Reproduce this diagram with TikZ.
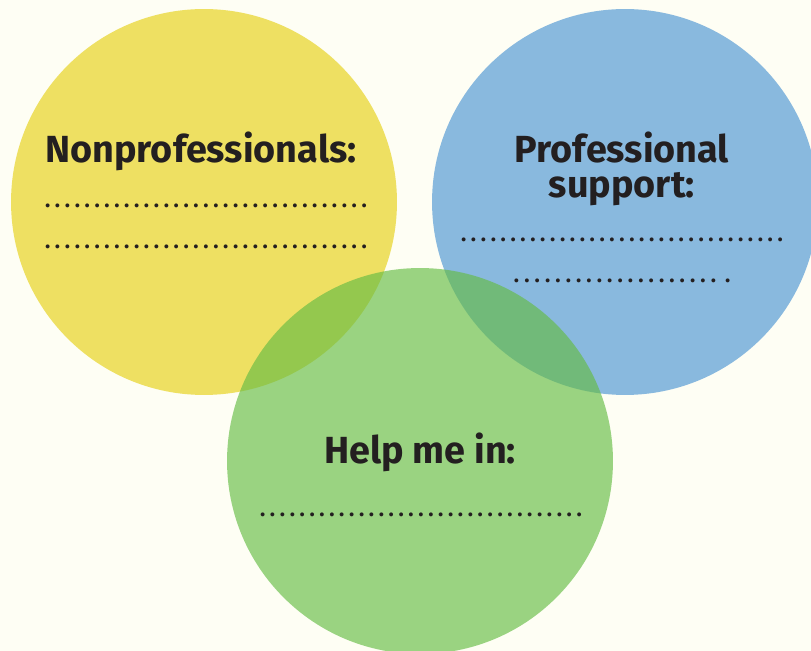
\documentclass[tikz,border=0pt]{standalone}
\usepackage{fontspec}
\setmainfont{Fira Sans}
\definecolor{bgcream}{RGB}{254, 254, 244}
\definecolor{circyellow}{RGB}{238, 224, 98}
\definecolor{circblue}{RGB}{137, 185, 222}
\definecolor{circgreen}{RGB}{101, 188, 68}
\definecolor{inkdark}{RGB}{35, 31, 32}
\usetikzlibrary{positioning}
% a row of dots, one every 5.63pt
\newcommand{\dotcell}{\hbox to 5.63pt{\hss.\hss}}
\newcommand{\dotrow}[1]{\hbox to #1{\xleaders\dotcell\hfill}}

\begin{document}
\begin{tikzpicture}[x=0.02cm, y=-0.02cm]
  \useasboundingbox (0,0) rectangle (811,651);
  \clip (0,0) rectangle (811,651);
  \fill[bgcream] (0,0) rectangle (811,651);

  % Circles
  \node[circle, inner sep=0pt, minimum size=7.72cm, fill=circyellow] (nonprof) at (204,202) {};
  \node[circle, inner sep=0pt, minimum size=7.72cm, fill=circblue] (profsup) at (625,202) {};
  \node[circle, inner sep=0pt, minimum size=7.72cm, fill=circgreen, fill opacity=0.65] (helpme) at (420,461) {};

  % Nonprofessionals
  \node[font=\fontsize{21.5}{20}\selectfont\bfseries, text=inkdark, anchor=base] (nonproftitle) at (201,163) {Nonprofessionals:};
  \node[font=\fontsize{16}{16}\selectfont, text=inkdark, anchor=base, inner sep=0pt] (nonprofdotsa) at (206,208) {\dotrow{185.8pt}};
  \node[font=\fontsize{16}{16}\selectfont, text=inkdark, anchor=base, inner sep=0pt] (nonprofdotsb) at (206,249) {\dotrow{185.8pt}};

  % Professional support
  \node[font=\fontsize{21.5}{20}\selectfont\bfseries, text=inkdark, anchor=base, align=center] (proftitle) at (622,198) {Professional\\support:};
  \node[font=\fontsize{16}{16}\selectfont, text=inkdark, anchor=base, inner sep=0pt] (profdotsa) at (622,242) {\dotrow{185.8pt}};
  \node[font=\fontsize{16}{16}\selectfont, text=inkdark, anchor=base, inner sep=0pt] (profdotsb) at (622,283) {\dotrow{118.2pt}\hspace{2.3pt}\dotcell};

  % Help me in
  \node[font=\fontsize{21.5}{20}\selectfont\bfseries, text=inkdark, anchor=base] (helptitle) at (420,463) {Help me in:};
  \node[font=\fontsize{16}{16}\selectfont, text=inkdark, anchor=base, inner sep=0pt] (helpdots) at (421,516) {\dotrow{185.8pt}};
\end{tikzpicture}
\end{document}
